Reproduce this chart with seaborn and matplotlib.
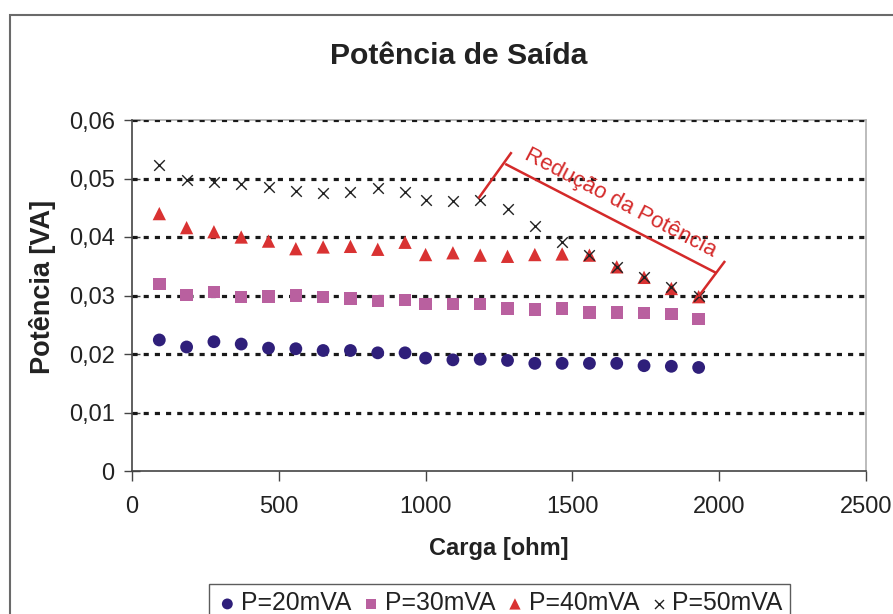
import numpy as np
import pandas as pd
import matplotlib
matplotlib.use("Agg")
import matplotlib.pyplot as plt
import seaborn as sns
from matplotlib.patches import Rectangle

# ---------------- data ----------------
carga = [93, 186, 279, 372, 465, 558, 651, 744, 837, 930, 1000,
         1093, 1186, 1279, 1372, 1465, 1558, 1651, 1744, 1837, 1930]
p20 = [0.0224, 0.0212, 0.0221, 0.0217, 0.0210, 0.0209, 0.0206, 0.0206, 0.0202, 0.0202, 0.0193,
       0.0190, 0.0191, 0.0189, 0.0184, 0.0184, 0.0184, 0.0184, 0.0180, 0.0179, 0.0177]
p30 = [0.0320, 0.0301, 0.0306, 0.0297, 0.0298, 0.0300, 0.0297, 0.0295, 0.0291, 0.0292, 0.0285,
       0.0285, 0.0285, 0.0278, 0.0276, 0.0278, 0.0271, 0.0271, 0.0270, 0.0268, 0.0260]
p40 = [0.0440, 0.0416, 0.0409, 0.0400, 0.0393, 0.0380, 0.0383, 0.0384, 0.0379, 0.0391, 0.0370,
       0.0373, 0.0369, 0.0367, 0.0370, 0.0371, 0.0369, 0.0349, 0.0331, 0.0312, 0.0298]
p50 = [0.0523, 0.0498, 0.0494, 0.0491, 0.0486, 0.0478, 0.0475, 0.0477, 0.0483, 0.0477, 0.0463,
       0.0461, 0.0463, 0.0448, 0.0418, 0.0391, 0.0369, 0.0349, 0.0332, 0.0315, 0.0300]
series_names = ["P=20mVA", "P=30mVA", "P=40mVA", "P=50mVA"]

x_ticks = [0, 500, 1000, 1500, 2000, 2500]
x_tick_labels = ["0", "500", "1000", "1500", "2000", "2500"]
y_ticks = [0, 0.01, 0.02, 0.03, 0.04, 0.05, 0.06]
y_tick_labels = ["0", "0,01", "0,02", "0,03", "0,04", "0,05", "0,06"]

title = "Potência de Saída"
x_label = "Carga [ohm]"
y_label = "Potência [VA]"
annot_text = "Redução da Potência"

# ---------------- style ----------------
sns.set_style("white")
plt.rcParams["font.family"] = ["Liberation Sans", "DejaVu Sans"]

df = pd.DataFrame({"carga": carga * 4,
                   "pot": p20 + p30 + p40 + p50,
                   "serie": sum([[n] * len(carga) for n in series_names], [])})

styles = {
    "P=20mVA": dict(marker="o", color="#2f1f7a", s=85, edgecolor="none"),
    "P=30mVA": dict(marker="s", color="#b9609f", s=80, edgecolor="none"),
    "P=40mVA": dict(marker="^", color="#d93232", s=92, edgecolor="none"),
    "P=50mVA": dict(marker="x", color="#222222", s=58, linewidth=1.0),
}

fig = plt.figure(figsize=(8.93, 6.14), dpi=100)
ax = fig.add_axes([132 / 893, 1 - 471 / 614, (866 - 132) / 893, (471 - 120) / 614])

for name in series_names:
    sub = df[df["serie"] == name]
    sns.scatterplot(data=sub, x="carga", y="pot", ax=ax, label=name, zorder=3, **styles[name])

ax.set_xlim(0, 2500)
ax.set_ylim(0, 0.06)
ax.set_xticks(x_ticks)
ax.set_xticklabels(x_tick_labels)
ax.set_yticks(y_ticks)
ax.set_yticklabels(y_tick_labels)
ax.set_xlabel("")
ax.set_ylabel("")

# dotted grid lines
for yv in y_ticks[1:]:
    ax.axhline(yv, color="#1a1a1a", lw=2.3, linestyle=(0, (1.6, 1.9)), zorder=1)

for side in ["left", "bottom"]:
    ax.spines[side].set_color("#444444")
    ax.spines[side].set_linewidth(1.2)
for side in ["right", "top"]:
    ax.spines[side].set_color("#b0b0b0")
    ax.spines[side].set_linewidth(1.2)
ax.spines["top"].set_zorder(0.5)

ax.tick_params(axis="y", direction="inout", length=11, width=1, color="#444444",
               labelsize=17, pad=7, left=True)
ax.tick_params(axis="x", direction="out", length=7, width=1, color="#444444",
               labelsize=17, pad=11, bottom=True)
for lab in ax.get_xticklabels() + ax.get_yticklabels():
    lab.set_color("#222222")

# titles
fig.text(459 / 893, 1 - 56 / 614, title, ha="center", va="center",
         fontsize=21.7, fontweight="bold", color="#222222")
fig.text(499 / 893, 1 - 549 / 614, x_label, ha="center", va="center",
         fontsize=17, fontweight="bold", color="#222222")
fig.text(43 / 893, 1 - 287 / 614, y_label, ha="center", va="center", rotation=90,
         fontsize=19.5, fontweight="bold", color="#222222")

# annotation bracket
red = "#d42a2a"
bracket = [((1180, 0.0466), (1293, 0.0545)),
           ((1271, 0.0525), (1992, 0.0338)),
           ((1929, 0.0298), (2020, 0.0359))]
for (x0, y0), (x1, y1) in bracket:
    ax.plot([x0, x1], [y0, y1], color=red, lw=1.8, zorder=4, solid_capstyle="butt")
ax.text(1662, 0.0459, annot_text, color=red, fontsize=16, rotation=-27.5,
        ha="center", va="center", rotation_mode="anchor", zorder=4)

# legend
leg = ax.legend(loc="upper center", bbox_to_anchor=(499.5 / 893, 1 - 584 / 614),
                bbox_transform=fig.transFigure, ncol=4, frameon=True, fancybox=False,
                fontsize=17.8, markerscale=0.85, handletextpad=0.1, columnspacing=0.35,
                handlelength=0.9, borderpad=0.3, borderaxespad=0)
leg.get_frame().set_edgecolor("#333333")
leg.get_frame().set_linewidth(1.0)
for t in leg.get_texts():
    t.set_color("#222222")

# outer chart frame
fig.patches.append(Rectangle((10 / 893, -0.2), 1.2, 1.2 - 15 / 614, transform=fig.transFigure,
                             fill=False, edgecolor="#6a6a6a", lw=1.5))

fig.savefig("out.png", dpi=100)
